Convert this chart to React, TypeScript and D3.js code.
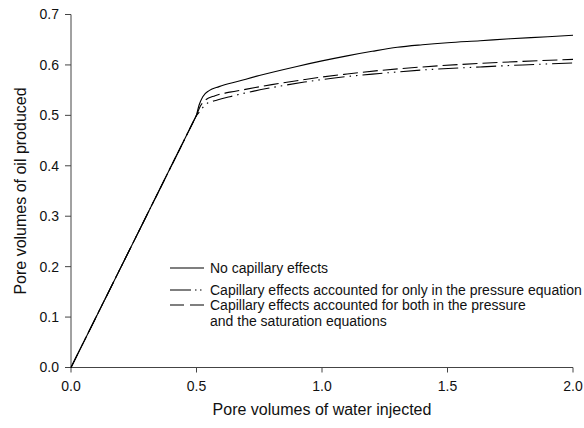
import React from "react";
import * as d3 from "d3";

type Pt = [number, number];

const noCapillary: Pt[] = [
  [0, 0], [0.5, 0.5], [0.51, 0.52], [0.525, 0.537], [0.55, 0.549], [0.59, 0.557],
  [0.67, 0.568], [0.75, 0.579], [0.9, 0.597], [1.0, 0.608], [1.1, 0.618],
  [1.2, 0.627], [1.3, 0.635], [1.4, 0.64], [1.5, 0.644], [1.63, 0.648],
  [1.75, 0.652], [1.9, 0.656], [2.0, 0.659],
];
const pressureOnly: Pt[] = [
  [0, 0], [0.5, 0.5], [0.52, 0.512], [0.534, 0.521], [0.586, 0.531], [0.633, 0.537],
  [0.7, 0.545], [0.8, 0.555], [0.93, 0.566], [1.0, 0.571], [1.1, 0.577],
  [1.23, 0.583], [1.4, 0.59], [1.63, 0.596], [1.8, 0.6], [2.0, 0.604],
];
const bothEquations: Pt[] = [
  [0, 0], [0.5, 0.5], [0.515, 0.518], [0.53, 0.528], [0.574, 0.539], [0.633, 0.546],
  [0.7, 0.552], [0.8, 0.561], [0.93, 0.571], [1.0, 0.576], [1.1, 0.582],
  [1.23, 0.589], [1.4, 0.596], [1.63, 0.603], [1.8, 0.607], [2.0, 0.611],
];

const xTicks = [0, 0.5, 1.0, 1.5, 2.0];
const yTicks = [0, 0.1, 0.2, 0.3, 0.4, 0.5, 0.6, 0.7];

const legendLabels = [
  ["No capillary effects"],
  ["Capillary effects accounted for only in the pressure equation"],
  ["Capillary effects accounted for both in the pressure", "and the saturation equations"],
];

const W = 584;
const H = 428;
const FONT = "'Liberation Sans', Arial, sans-serif";

export default function App() {
  const x = d3.scaleLinear().domain([0, 2]).range([71, 573]);
  const y = d3.scaleLinear().domain([0, 0.7]).range([367.5, 14.5]);
  const curve = d3
    .line<Pt>()
    .x((d) => x(d[0]))
    .y((d) => y(d[1]))
    .curve(d3.curveMonotoneX);

  // straight injection segment up to breakthrough, then smooth curve
  const pathFor = (data: Pt[]) => {
    const first = data[0];
    const rest = curve(data.slice(1)) || "";
    return `M${x(first[0])},${y(first[1])}` + rest.replace(/^M/, "L");
  };

  const axisColor = "#444";
  const series = [
    { data: noCapillary, dash: undefined as string | undefined },
    { data: pressureOnly, dash: "20,5,1.5,5,1.5,5" },
    { data: bothEquations, dash: "15,5" },
  ];

  const legendX1 = 170;
  const legendX2 = 204;
  const legendTextX = 210;
  const legendRows = [268, 290, 305];
  const legendDash = [undefined, "21,4,1.5,3.5,1.5,10", "14,6"];

  return (
    <svg
      width={W}
      height={H}
      style={{ position: "absolute", left: 0, top: 0, background: "#fff" }}
      fontFamily={FONT}
    >
      <rect x={0} y={0} width={W} height={H} fill="#fff" />
      {/* axes */}
      <line x1={x(0)} x2={x(2)} y1={y(0)} y2={y(0)} stroke={axisColor} strokeWidth={1} />
      <line x1={x(0)} x2={x(0)} y1={y(0)} y2={y(0.7)} stroke={axisColor} strokeWidth={1} />
      {xTicks.map((t) => (
        <g key={"x" + t}>
          <line x1={x(t)} x2={x(t)} y1={y(0)} y2={y(0) + 5} stroke={axisColor} strokeWidth={1} />
          <text x={x(t)} y={391} textAnchor="middle" fontSize={14} fill="#111">
            {t.toFixed(1)}
          </text>
        </g>
      ))}
      {yTicks.map((t) => (
        <g key={"y" + t}>
          <line x1={x(0) - 6} x2={x(0)} y1={y(t)} y2={y(t)} stroke={axisColor} strokeWidth={1} />
          <text x={59} y={y(t)} dy="0.35em" textAnchor="end" fontSize={14} fill="#111">
            {t.toFixed(1)}
          </text>
        </g>
      ))}
      <text x={322} y={415} textAnchor="middle" fontSize={16} fill="#111">
        Pore volumes of water injected
      </text>
      <text
        transform={`translate(26, ${(y(0) + y(0.7)) / 2}) rotate(-90)`}
        textAnchor="middle"
        fontSize={16}
        fill="#111"
      >
        Pore volumes of oil produced
      </text>

      {/* series */}
      {series.map((s, i) => (
        <path
          key={i}
          d={pathFor(s.data)}
          fill="none"
          stroke="#000"
          strokeWidth={1.1}
          strokeDasharray={s.dash}
        />
      ))}

      {/* legend */}
      {legendLabels.map((lab, i) => (
        <g key={"l" + i}>
          <line
            x1={legendX1}
            x2={legendX2}
            y1={legendRows[i]}
            y2={legendRows[i]}
            stroke="#000"
            strokeWidth={1.1}
            strokeDasharray={legendDash[i]}
          />
          {lab.map((txt, j) => (
            <text
              key={j}
              x={legendTextX}
              y={legendRows[i] + j * 16}
              dy="0.35em"
              fontSize={14}
              fill="#111"
            >
              {txt}
            </text>
          ))}
        </g>
      ))}
    </svg>
  );
}
